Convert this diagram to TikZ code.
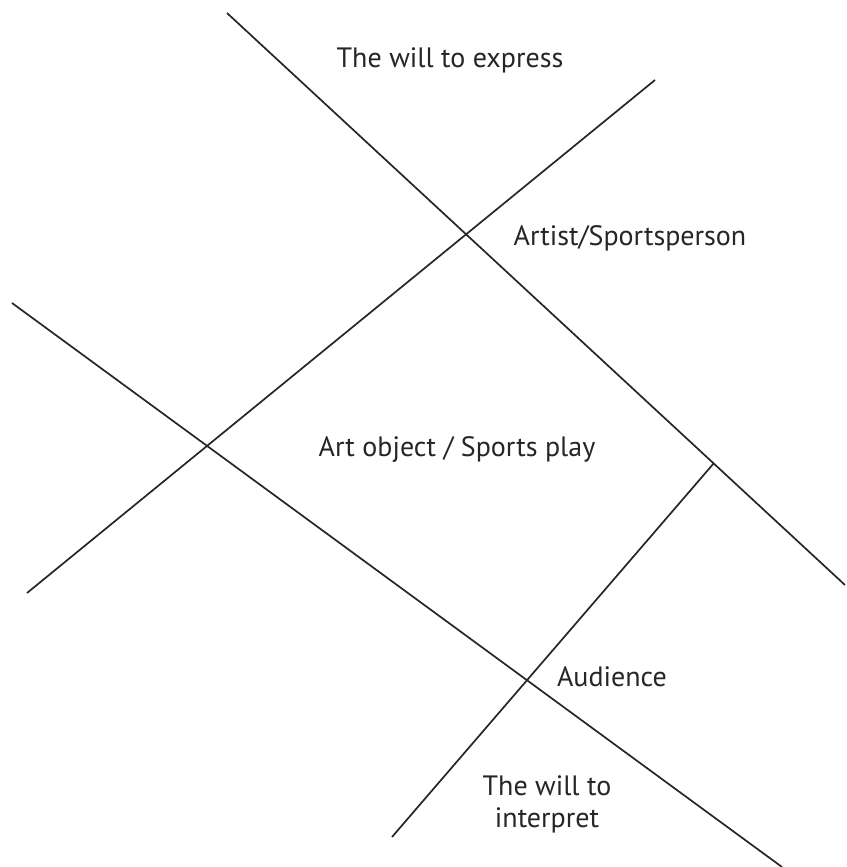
\documentclass[tikz,border=0pt]{standalone}
\usepackage{fontspec}
\setmainfont{PT Sans}
\begin{document}
\begin{tikzpicture}[x=1pt,y=-1pt,
  axis/.style={line width=1.7pt, draw=black!85, line cap=butt},
  lbl/.style={inner sep=0pt, anchor=base, font=\fontsize{28}{32}\selectfont, text=black!85}]
\useasboundingbox[fill=white] (0,0) rectangle (846,867);
% line end points
\coordinate (a1) at (227,13);  \coordinate (a2) at (845,585);
\coordinate (b1) at (655,80);  \coordinate (b2) at (27,593);
\coordinate (c1) at (12,303);  \coordinate (c2) at (782,867);
\coordinate (d1) at (714,463); \coordinate (d2) at (392,837);
\draw[axis] (a1) -- (a2);
\draw[axis] (b1) -- (b2);
\draw[axis] (c1) -- (c2);
\draw[axis] (d1) -- (d2);
% labels
\node[lbl] (express) at (450,67) {The will to express};
\node[lbl] (artist) at (630,245) {Artist/Sportsperson};
\node[lbl] (object) at (457,456) {Art object / Sports play};
\node[lbl] (audience) at (612,686) {Audience};
\node[lbl] (interpA) at (547,795) {The will to};
\node[lbl] (interpB) at (547,827) {interpret};
\end{tikzpicture}
\end{document}
